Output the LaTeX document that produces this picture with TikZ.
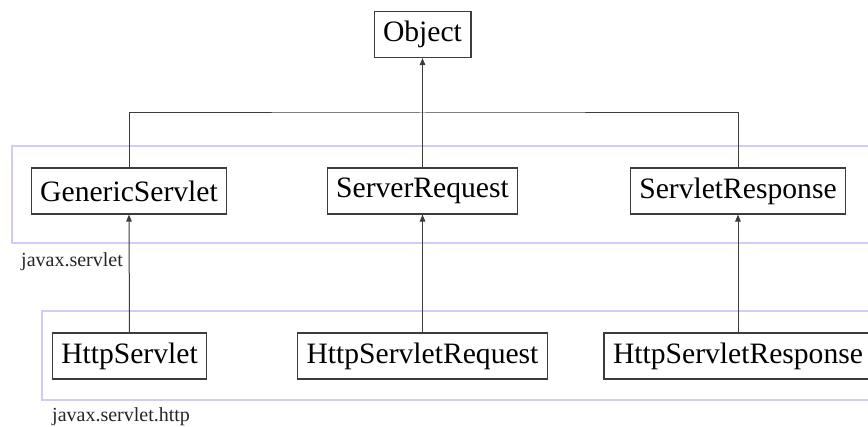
\documentclass[tikz,border=0pt]{standalone}
\usepackage{fontspec}
\setmainfont{Liberation Serif}
\usetikzlibrary{arrows.meta}
\definecolor{pkgblue}{RGB}{205,205,248}
\definecolor{linegray}{RGB}{60,60,60}
\tikzset{
  cls/.style={draw=linegray, line width=1.1pt, minimum height=46pt, inner xsep=9pt, inner ysep=0pt, font=\fontsize{29.6}{32}\selectfont, fill=white},
  pkg/.style={draw=pkgblue, line width=1.3pt},
  pkglabel/.style={anchor=base west, inner sep=0pt, font=\fontsize{20}{22}\selectfont, text=black!85},
  inh/.style={draw=linegray, line width=1pt, -{Triangle[length=7pt,width=5.5pt]}},
  conn/.style={draw=linegray, line width=1pt}
}
\begin{document}
\begin{tikzpicture}[x=1pt,y=1pt]
\useasboundingbox (0,0) rectangle (868,-427);
\begin{scope}
\clip (0,0) rectangle (868,-427);
\draw[pkg] (12,-146) rectangle (900,-243);
\draw[pkg] (42,-311) rectangle (900,-400);
\node[pkglabel] (lab1) at (21,-267) {javax.servlet};
\node[pkglabel] (lab2) at (52,-421.5) {javax.servlet.http};

\node[cls] (obj) at (422.5,-34.5) {Object};
\node[cls] (gs) at (129,-191) {GenericServlet};
\node[cls] (srq) at (422.5,-191) {ServerRequest};
\node[cls] (srs) at (738,-191) {ServletResponse};
\node[cls] (hs) at (129.5,-356) {HttpServlet};
\node[cls] (hrq) at (422.5,-356) {HttpServletRequest};
\node[cls] (hrs) at (738,-356) {HttpServletResponse};

\coordinate (j) at (422.5,-113);
\draw[conn] (gs.north) |- (j) -| (srs.north);
\draw[inh] (srq.north) -- (obj.south);
\draw[inh] (hs.north) -- (gs.south);
\draw[inh] (hrq.north) -- (srq.south);
\draw[inh] (hrs.north) -- (srs.south);
\end{scope}
\end{tikzpicture}
\end{document}
